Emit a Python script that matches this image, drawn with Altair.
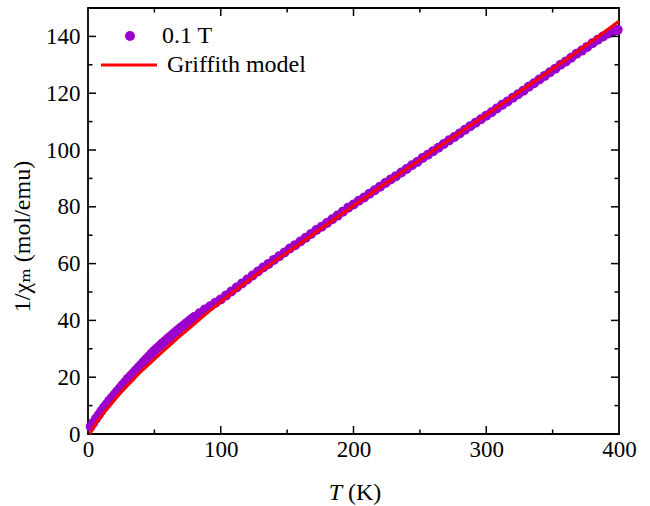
import altair as alt
import pandas as pd

# Measured inverse susceptibility at 0.1 T
temp_k = [2, 4, 6, 8, 10, 12, 14, 16, 18, 20, 22, 24, 26, 28, 30, 32, 34, 36, 38, 40,
          42, 44, 46, 48, 50, 52, 54, 56, 58, 60, 62, 64, 66, 68, 70, 72, 74, 76, 78, 80,
          84, 88, 92, 96, 100, 104, 108, 112, 116, 120, 124, 128, 132, 136, 140, 144, 148,
          152, 156, 160, 164, 168, 172, 176, 180, 184, 188, 192, 196, 200, 204, 208, 212,
          216, 220, 224, 228, 232, 236, 240, 244, 248, 252, 256, 260, 264, 268, 272, 276,
          280, 284, 288, 292, 296, 300, 304, 308, 312, 316, 320, 324, 328, 332, 336, 340,
          344, 348, 352, 356, 360, 364, 368, 372, 376, 380, 384, 388, 392, 396, 399]
inv_chi = [2.6, 4.0, 5.4, 6.7, 8.0, 9.3, 10.5, 11.7, 12.8, 13.9, 15.0, 16.1, 17.2, 18.3,
           19.4, 20.4, 21.4, 22.4, 23.4, 24.4, 25.4, 26.4, 27.4, 28.4, 29.3, 30.2, 31.0,
           31.9, 32.7, 33.5, 34.3, 35.1, 35.9, 36.7, 37.5, 38.2, 39.0, 39.7, 40.5, 41.2,
           42.5, 43.8, 45.0, 46.2, 47.4, 48.8, 50.2, 51.6, 53.0, 54.4, 55.8, 57.2, 58.6,
           59.9, 61.3, 62.6, 63.9, 65.3, 66.5, 67.8, 69.1, 70.4, 71.8, 73.0, 74.3, 75.6,
           76.9, 78.3, 79.7, 80.8, 82.1, 83.3, 84.6, 85.8, 87.1, 88.4, 89.6, 90.8, 92.1,
           93.3, 94.6, 95.8, 97.2, 98.3, 99.6, 100.8, 102.1, 103.4, 104.6, 105.8, 107.1,
           108.4, 109.6, 110.8, 112.1, 113.3, 114.6, 115.9, 117.1, 118.4, 119.6, 120.9,
           122.3, 123.5, 124.8, 126.1, 127.4, 128.6, 130.0, 131.2, 132.5, 133.9, 135.0,
           136.3, 137.6, 138.8, 140.0, 141.0, 141.8, 142.3]

# Griffith-phase model curve
model_t = [1.5, 5, 10, 15, 20, 25, 30, 35, 40, 45, 50, 55, 60, 65, 70, 75, 80, 85, 90,
           95, 100, 110, 120, 130, 140, 150, 160, 170, 180, 190, 200, 220, 240, 260, 280,
           300, 320, 340, 360, 380, 400]
model_inv_chi = [0.0, 3.1, 6.2, 9.2, 12.0, 14.7, 17.2, 19.6, 22.0, 24.2, 26.3, 28.5, 30.6,
                 32.7, 34.7, 36.7, 38.7, 40.7, 42.7, 44.6, 46.5, 50.2, 53.7, 57.2, 60.6,
                 63.9, 67.2, 70.5, 73.8, 77.1, 80.4, 86.9, 93.3, 99.7, 106.1, 112.4, 118.8,
                 125.3, 131.8, 138.5, 145.4]

x_major = [100, 200, 300]
x_minor = [50, 150, 250, 350]
y_major = [20, 40, 60, 80, 100, 120, 140]
y_minor = [10, 30, 50, 70, 90, 110, 130]

W, H = 531, 426
FONT = "'Liberation Serif', 'DejaVu Serif', serif"
PURPLE = "#9b00cc"
RED = "#ff0000"
MSIZE = 100

meas = pd.DataFrame({"T": temp_k, "inv": inv_chi})
model = pd.DataFrame({"T": model_t, "inv": model_inv_chi})

xs = alt.Scale(domain=[0, 400], nice=False, zero=False)
ys = alt.Scale(domain=[0, 150], nice=False, zero=False)

x_axis = alt.Axis(values=[0, 100, 200, 300, 400], title=None, ticks=False, domain=False,
                  grid=False, labelFont=FONT, labelFontSize=23, labelColor="black",
                  labelPadding=4, labelFlush=False)
y_axis = alt.Axis(values=[0, 20, 40, 60, 80, 100, 120, 140], title="1/χₘ (mol/emu)",
                  ticks=False, domain=False, grid=False, labelFont=FONT, labelFontSize=23,
                  labelColor="black", labelPadding=8, titleFont=FONT, titleFontSize=24,
                  titleFontWeight="normal", titleColor="black", titleAngle=-90,
                  titleX=-66, titleY=228, titleAlign="center", titleBaseline="middle")

points = alt.Chart(meas).mark_circle(size=MSIZE, color=PURPLE, opacity=1).encode(
    x=alt.X("T:Q", scale=xs, axis=x_axis),
    y=alt.Y("inv:Q", scale=ys, axis=y_axis),
)

curve = alt.Chart(model).mark_line(color=RED, strokeWidth=3, interpolate="monotone").encode(
    x=alt.X("T:Q", scale=xs),
    y=alt.Y("inv:Q", scale=ys),
)


def x_ticks(vals, length, bottom):
    df = pd.DataFrame({"T": vals})
    if bottom:
        y0, y1 = H, H - length
    else:
        y0, y1 = 0, length
    return alt.Chart(df).mark_rule(color="black", strokeWidth=1.5).encode(
        x=alt.X("T:Q", scale=xs), y=alt.value(y0), y2=alt.value(y1))


def y_ticks(vals, length, left):
    df = pd.DataFrame({"inv": vals})
    if left:
        x0, x1 = 0, length
    else:
        x0, x1 = W, W - length
    return alt.Chart(df).mark_rule(color="black", strokeWidth=1.5).encode(
        y=alt.Y("inv:Q", scale=ys), x=alt.value(x0), x2=alt.value(x1))


ticks = [
    x_ticks(x_major, 8, True), x_ticks(x_minor, 4.5, True),
    x_ticks(x_major, 8, False), x_ticks(x_minor, 4.5, False),
    y_ticks(y_major, 8, True), y_ticks(y_minor, 4.5, True),
    y_ticks(y_major, 8, False), y_ticks(y_minor, 4.5, False),
]

# Legend entries
legend_df = pd.DataFrame({"label": ["0.1 T", "Griffith model"]})
leg_point = alt.Chart(legend_df).transform_filter(alt.datum.label == "0.1 T").mark_circle(
    size=MSIZE, color=PURPLE, opacity=1).encode(x=alt.value(42), y=alt.value(28))
leg_line = alt.Chart(legend_df).transform_filter(alt.datum.label == "Griffith model").mark_rule(
    color=RED, strokeWidth=3).encode(x=alt.value(13), x2=alt.value(69), y=alt.value(57))
leg_text1 = alt.Chart(legend_df).transform_filter(alt.datum.label == "0.1 T").mark_text(
    font=FONT, fontSize=24, align="left", baseline="middle", color="black").encode(
    x=alt.value(74), y=alt.value(28), text="label:N")
leg_text2 = alt.Chart(legend_df).transform_filter(alt.datum.label == "Griffith model").mark_text(
    font=FONT, fontSize=24, align="left", baseline="middle", color="black").encode(
    x=alt.value(79), y=alt.value(57), text="label:N")

# X axis title: italic T followed by upright unit
xt_df = pd.DataFrame({"sym": ["T"], "unit": ["(K)"]})
x_title_sym = alt.Chart(xt_df).mark_text(
    font=FONT, fontSize=24, fontStyle="italic", align="right", baseline="middle",
    color="black").encode(x=alt.value(254), y=alt.value(485), text="sym:N")
x_title_unit = alt.Chart(xt_df).mark_text(
    font=FONT, fontSize=24, align="left", baseline="middle", color="black").encode(
    x=alt.value(260), y=alt.value(485), text="unit:N")

chart = alt.layer(
    points, curve, *ticks, leg_point, leg_line, leg_text1, leg_text2,
    x_title_sym, x_title_unit,
).properties(
    width=W, height=H,
    autosize=alt.AutoSizeParams(type="none"),
    padding={"left": 88, "top": 8, "right": 31, "bottom": 72},
    background="white",
).configure_view(
    stroke="black", strokeWidth=1.8,
)

chart.save("out.html", embed_options={"renderer": "svg", "actions": False})
